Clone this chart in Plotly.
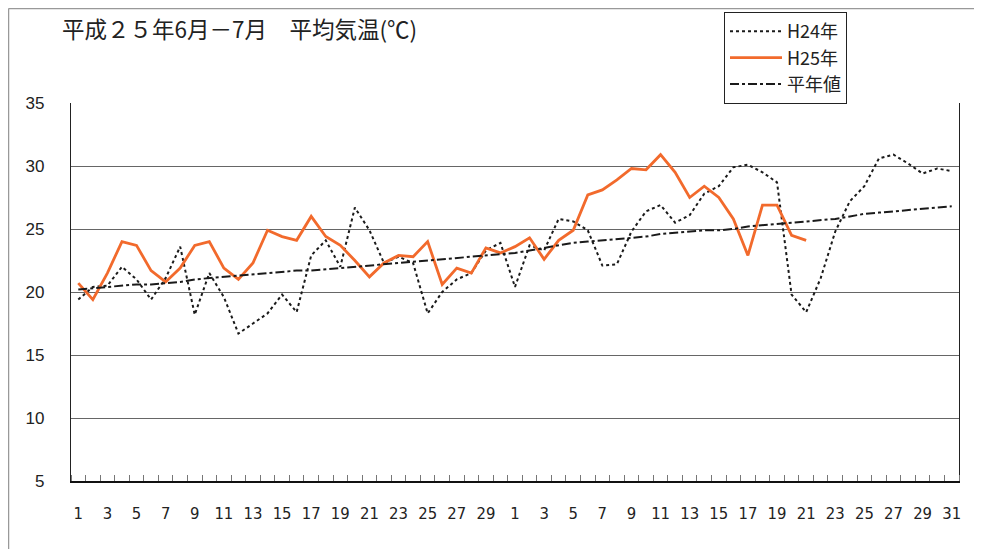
import plotly.graph_objects as go

# ---- data ----
june_days = list(range(1, 31))
july_days = list(range(1, 32))
day_labels = [str(d) for d in june_days] + [str(d) for d in july_days]

h24 = [19.4, 20.4, 20.5, 22.0, 21.0, 19.4, 21.1, 23.6, 18.2, 21.5,
       19.6, 16.7, 17.5, 18.3, 19.8, 18.4, 22.9, 24.1, 22.0, 26.7,
       24.9, 22.3, 22.8, 22.3, 18.3, 20.0, 21.0, 21.5, 23.3, 23.9,
       20.4, 23.7, 23.3, 25.8, 25.6, 24.9, 22.1, 22.2, 24.8, 26.4,
       26.9, 25.5, 26.1, 27.8, 28.4, 29.9, 30.1, 29.5, 28.7, 19.8,
       18.4, 21.1, 24.8, 27.2, 28.4, 30.6, 30.9, 30.2, 29.4, 29.8,
       29.6]

h25 = [20.7, 19.4, 21.5, 24.0, 23.7, 21.7, 20.8, 21.9, 23.7, 24.0,
       21.9, 21.0, 22.3, 24.9, 24.4, 24.1, 26.0, 24.4, 23.7, 22.5,
       21.2, 22.3, 22.9, 22.8, 24.0, 20.6, 21.9, 21.5, 23.5, 23.1,
       23.6, 24.3, 22.6, 24.1, 24.9, 27.7, 28.1, 28.9, 29.8, 29.7,
       30.9, 29.5, 27.5, 28.4, 27.5, 25.8, 22.9, 26.9, 26.9, 24.5,
       24.1]

normal = [20.2, 20.3, 20.4, 20.5, 20.6, 20.6, 20.7, 20.8, 21.0, 21.1,
          21.2, 21.3, 21.4, 21.5, 21.6, 21.7, 21.7, 21.8, 21.9, 22.0,
          22.1, 22.2, 22.3, 22.4, 22.5, 22.6, 22.7, 22.8, 22.9, 23.0,
          23.1, 23.3, 23.5, 23.7, 23.9, 24.0, 24.1, 24.2, 24.3, 24.4,
          24.6, 24.7, 24.8, 24.9, 24.9, 25.0, 25.2, 25.3, 25.4, 25.5,
          25.6, 25.7, 25.8, 26.0, 26.2, 26.3, 26.4, 26.5, 26.6, 26.7,
          26.8]

title_text = "平成２５年6月－7月　平均気温(℃)"
names = ["H24年", "H25年", "平年値"]

# ---- figure ----
idx = list(range(len(day_labels)))
jp = "Noto Sans CJK JP, Noto Sans, sans-serif"
num = "Liberation Sans Narrow, Arial Narrow, DejaVu Sans Condensed, Liberation Sans, Arial, sans-serif"
numy = "Liberation Sans, Arial, sans-serif"

fig = go.Figure()
fig.add_trace(go.Scatter(x=idx[:len(h24)], y=h24, mode="lines", name=names[0],
                         line=dict(color="#1a1a1a", width=2, dash="dot")))
fig.add_trace(go.Scatter(x=idx[:len(h25)], y=h25, mode="lines", name=names[1],
                         line=dict(color="#F26A2C", width=2.8)))
fig.add_trace(go.Scatter(x=idx[:len(normal)], y=normal, mode="lines", name=names[2],
                         line=dict(color="#1a1a1a", width=2, dash="dashdot")))

# page body has an 8px default margin: work in screen coords minus 8
OFF = 8
W, H = 982, 549
ml = 71 - OFF
mt = 103 - OFF
mr = W - (959 - OFF)
mb = H - (481 - OFF)
pw = W - ml - mr
ph = H - mt - mb

fig.update_layout(
    width=W, height=H,
    margin=dict(l=ml, r=mr, t=mt, b=mb, autoexpand=False),
    paper_bgcolor="white", plot_bgcolor="white",
    title=dict(text=title_text, x=(62 - OFF) / W, xref="container", xanchor="left",
               y=1 - (30 - OFF) / H, yref="container", yanchor="middle",
               font=dict(family=jp, size=22.5, color="#222")),
    legend=dict(x=(724 - OFF - ml) / pw, y=1 + (mt - (12 - OFF)) / ph,
                xanchor="left", yanchor="top",
                bgcolor="white", bordercolor="#222", borderwidth=1,
                font=dict(family=jp, size=18, color="#222"),
                tracegroupgap=0, itemwidth=52),
    showlegend=True,
    xaxis=dict(range=[-0.5, len(day_labels) - 0.5], tickmode="array",
               tickvals=idx[::2], ticktext=day_labels[::2],
               ticks="", showgrid=False, zeroline=False,
               showline=True, linecolor="#111", linewidth=1.5,
               ticklabelstandoff=16,
               tickfont=dict(family=num, size=16.5, color="#222"),
               minor=dict(ticks="inside", tickmode="linear", tick0=-0.5, dtick=1,
                          ticklen=6, tickcolor="#777", tickwidth=1, showgrid=False)),
    yaxis=dict(range=[5, 35], tickmode="linear", tick0=5, dtick=5,
               showgrid=True, gridcolor="#666", gridwidth=1,
               zeroline=False, showline=True, linecolor="#222", linewidth=1.2,
               mirror=True, ticks="", ticklabelstandoff=22,
               tickfont=dict(family=numy, size=17, color="#222")),
    shapes=[
        dict(type="line", xref="paper", yref="paper",
             x0=(0.5 - ml) / pw, x1=(W + 10 - ml) / pw,
             y0=1 + (mt - 0.5) / ph, y1=1 + (mt - 0.5) / ph,
             line=dict(color="#999", width=1.5)),
        dict(type="line", xref="paper", yref="paper",
             x0=(0.5 - ml) / pw, x1=(0.5 - ml) / pw,
             y0=1 + (mt - 0.5) / ph, y1=-(mb + 10) / ph,
             line=dict(color="#999", width=1.5)),
    ],
)

fig.write_html("out.html")
